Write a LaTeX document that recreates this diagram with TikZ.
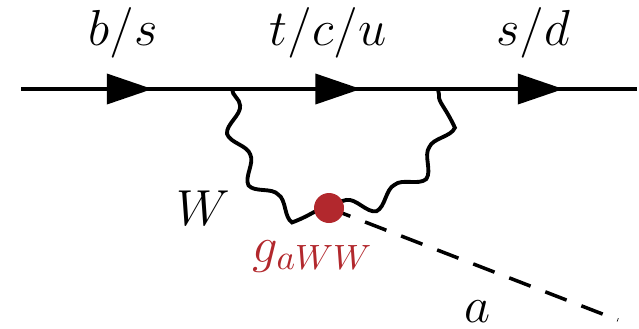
\documentclass[tikz,border=0pt]{standalone}
\usepackage{amsmath}
\usepackage{amssymb}
\usepackage{tikz}
\usetikzlibrary{arrows.meta, positioning, calc, decorations.markings, decorations.pathmorphing}
\definecolor{couplingred}{RGB}{178,40,45}

\begin{document}
\begin{tikzpicture}[
    font=\Large,
    fermion/.style={line width=1.2pt, postaction={decorate},
        decoration={markings, mark=at position 0.5 with {\arrow[xshift=7.4pt]{Triangle[length=13pt,width=8.5pt]}}}},
    photon/.style={line width=1.1pt, decorate,
        decoration={snake, amplitude=2.3pt, segment length=#1}},
    scalar/.style={line width=1pt, dash pattern=on 6.5pt off 4.5pt},
    tag/.style={anchor=base, inner sep=0pt}
]
    \useasboundingbox (0,0) rectangle (6.39,3.28);

    \coordinate (in) at (0.21,2.39);
    \coordinate (v1) at (2.32,2.39);
    \coordinate (v2) at (4.38,2.39);
    \coordinate (out) at (6.37,2.39);
    \coordinate (va) at (3.29,1.20);
    \coordinate (aend) at (6.18,0.08);

    \draw[fermion] (in) -- (v1);
    \draw[fermion] (v1) -- (v2);
    \draw[fermion] (v2) -- (out);

    \draw[photon=15.1pt] (v1) to[out=-90, in=180] (va);
    \draw[photon=15.8pt] (va) to[out=0, in=-90] (v2);
    \draw[scalar] (va) -- (aend);
    \fill[couplingred] (va) circle (0.15);

    \node[tag] (bs) at (1.23,2.83) {$b/s$};
    \node[tag] (tcu) at (3.28,2.83) {$t/c/u$};
    \node[tag] (sd) at (5.33,2.83) {$s/d$};
    \node[tag] (w) at (2.03,1.03) {$W$};
    \node[tag, text=couplingred] (g) at (3.13,0.66) {$g_{aWW}$};
    \node[tag] (a) at (4.77,0.06) {$a$};
\end{tikzpicture}
\end{document}
